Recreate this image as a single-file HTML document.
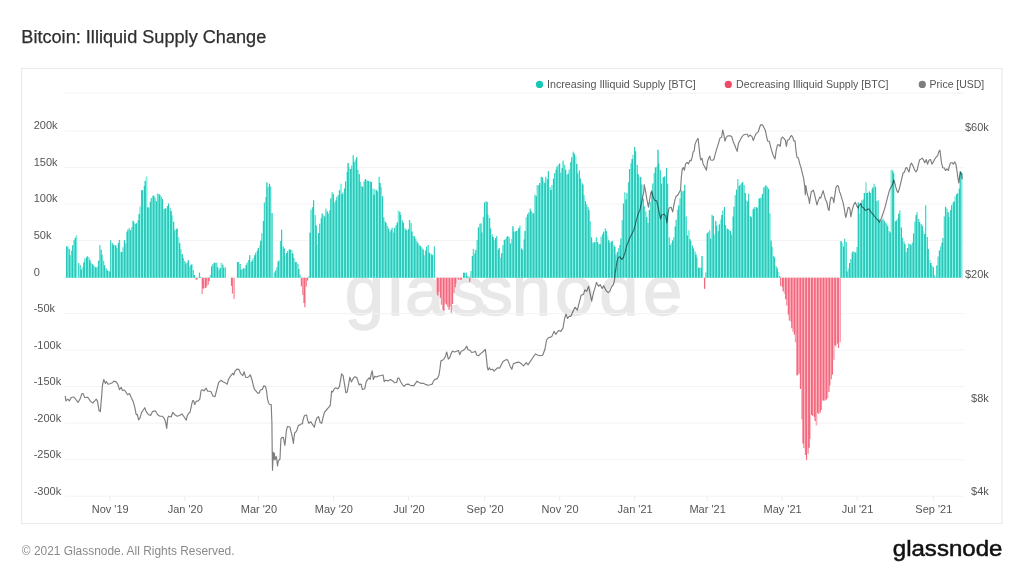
<!DOCTYPE html>
<html lang="en"><head><meta charset="utf-8"><title>Bitcoin: Illiquid Supply Change</title>
<style>
html,body{margin:0;padding:0;background:#fff;}
body{width:1024px;height:576px;overflow:hidden;position:relative;font-family:"Liberation Sans",sans-serif;}
svg{position:absolute;left:0;top:0;}
text{font-family:"Liberation Sans",sans-serif;}
.ax{font-size:11px;fill:#555;}
.lg{font-size:11px;fill:#555;}
</style></head><body>
<svg width="1024" height="576" viewBox="0 0 1024 576">
<rect width="1024" height="576" fill="#fff"/>
<text x="21.3" y="42.8" font-size="17.5" fill="#2f2f2f" stroke="#2f2f2f" stroke-width="0.25" textLength="245" lengthAdjust="spacingAndGlyphs">Bitcoin: Illiquid Supply Change</text>
<rect x="21.5" y="68.5" width="980.5" height="455" fill="#fff" stroke="#ebebeb" stroke-width="1.2"/>
<text x="344.8 387.5 404.9 449.8 477.8 511.8 555 599.3 643.1" y="315.2" font-size="70.7" fill="#e8e8e8" stroke="#e8e8e8" stroke-width="1.3">glassnode</text>

<line x1="64.5" x2="964" y1="93.2" y2="93.2" stroke="#f3f3f3" stroke-width="1"/>
<line x1="64.5" x2="964" y1="131.0" y2="131.0" stroke="#f3f3f3" stroke-width="1"/>
<line x1="64.5" x2="964" y1="167.5" y2="167.5" stroke="#f3f3f3" stroke-width="1"/>
<line x1="64.5" x2="964" y1="204.0" y2="204.0" stroke="#f3f3f3" stroke-width="1"/>
<line x1="64.5" x2="964" y1="240.6" y2="240.6" stroke="#f3f3f3" stroke-width="1"/>
<line x1="64.5" x2="964" y1="277.1" y2="277.1" stroke="#f3f3f3" stroke-width="1"/>
<line x1="64.5" x2="964" y1="313.6" y2="313.6" stroke="#f3f3f3" stroke-width="1"/>
<line x1="64.5" x2="964" y1="350.1" y2="350.1" stroke="#f3f3f3" stroke-width="1"/>
<line x1="64.5" x2="964" y1="386.6" y2="386.6" stroke="#f3f3f3" stroke-width="1"/>
<line x1="64.5" x2="964" y1="423.2" y2="423.2" stroke="#f3f3f3" stroke-width="1"/>
<line x1="64.5" x2="964" y1="459.7" y2="459.7" stroke="#f3f3f3" stroke-width="1"/>
<line x1="64.5" x2="964" y1="496.2" y2="496.2" stroke="#f3f3f3" stroke-width="1"/>
<text class="ax" x="33.7" y="129.4">200k</text>
<text class="ax" x="33.7" y="165.9">150k</text>
<text class="ax" x="33.7" y="202.4">100k</text>
<text class="ax" x="33.7" y="239.0">50k</text>
<text class="ax" x="33.7" y="275.5">0</text>
<text class="ax" x="33.7" y="312.0">-50k</text>
<text class="ax" x="33.7" y="348.5">-100k</text>
<text class="ax" x="33.7" y="385.0">-150k</text>
<text class="ax" x="33.7" y="421.6">-200k</text>
<text class="ax" x="33.7" y="458.1">-250k</text>
<text class="ax" x="33.7" y="494.6">-300k</text>
<text class="ax" x="110.2" y="513.3" text-anchor="middle">Nov '19</text>
<line x1="109.8" x2="109.8" y1="496.5" y2="500.5" stroke="#ebebeb" stroke-width="1"/>
<text class="ax" x="185.2" y="513.3" text-anchor="middle">Jan '20</text>
<line x1="184.8" x2="184.8" y1="496.5" y2="500.5" stroke="#ebebeb" stroke-width="1"/>
<text class="ax" x="258.9" y="513.3" text-anchor="middle">Mar '20</text>
<line x1="258.5" x2="258.5" y1="496.5" y2="500.5" stroke="#ebebeb" stroke-width="1"/>
<text class="ax" x="333.9" y="513.3" text-anchor="middle">May '20</text>
<line x1="333.5" x2="333.5" y1="496.5" y2="500.5" stroke="#ebebeb" stroke-width="1"/>
<text class="ax" x="408.9" y="513.3" text-anchor="middle">Jul '20</text>
<line x1="408.5" x2="408.5" y1="496.5" y2="500.5" stroke="#ebebeb" stroke-width="1"/>
<text class="ax" x="485.1" y="513.3" text-anchor="middle">Sep '20</text>
<line x1="484.7" x2="484.7" y1="496.5" y2="500.5" stroke="#ebebeb" stroke-width="1"/>
<text class="ax" x="560.1" y="513.3" text-anchor="middle">Nov '20</text>
<line x1="559.7" x2="559.7" y1="496.5" y2="500.5" stroke="#ebebeb" stroke-width="1"/>
<text class="ax" x="635.1" y="513.3" text-anchor="middle">Jan '21</text>
<line x1="634.7" x2="634.7" y1="496.5" y2="500.5" stroke="#ebebeb" stroke-width="1"/>
<text class="ax" x="707.6" y="513.3" text-anchor="middle">Mar '21</text>
<line x1="707.2" x2="707.2" y1="496.5" y2="500.5" stroke="#ebebeb" stroke-width="1"/>
<text class="ax" x="782.6" y="513.3" text-anchor="middle">May '21</text>
<line x1="782.2" x2="782.2" y1="496.5" y2="500.5" stroke="#ebebeb" stroke-width="1"/>
<text class="ax" x="857.6" y="513.3" text-anchor="middle">Jul '21</text>
<line x1="857.2" x2="857.2" y1="496.5" y2="500.5" stroke="#ebebeb" stroke-width="1"/>
<text class="ax" x="933.8" y="513.3" text-anchor="middle">Sep '21</text>
<line x1="933.4" x2="933.4" y1="496.5" y2="500.5" stroke="#ebebeb" stroke-width="1"/>
<text class="ax" x="988.8" y="131.0" text-anchor="end">$60k</text>
<text class="ax" x="988.8" y="277.5" text-anchor="end">$20k</text>
<text class="ax" x="988.8" y="401.5" text-anchor="end">$8k</text>
<text class="ax" x="988.8" y="494.6" text-anchor="end">$4k</text>
<defs><clipPath id="ct"><path d="M65.95 246.6h1.33V277.7h-1.33zM67.18 246.6h1.33V277.7h-1.33zM68.41 249.1h1.33V277.7h-1.33zM69.64 255.2h1.33V277.7h-1.33zM70.87 250.4h1.33V277.7h-1.33zM72.10 245.2h1.33V277.7h-1.33zM73.33 239.9h1.33V277.7h-1.33zM74.56 237.9h1.33V277.7h-1.33zM75.78 235.6h1.33V277.7h-1.33zM78.24 263.1h1.33V277.7h-1.33zM79.47 265.0h1.33V277.7h-1.33zM80.70 269.4h1.33V277.7h-1.33zM81.93 266.9h1.33V277.7h-1.33zM83.16 262.6h1.33V277.7h-1.33zM84.39 258.4h1.33V277.7h-1.33zM85.62 257.5h1.33V277.7h-1.33zM86.85 256.2h1.33V277.7h-1.33zM88.08 257.6h1.33V277.7h-1.33zM89.31 260.3h1.33V277.7h-1.33zM90.54 263.0h1.33V277.7h-1.33zM91.77 264.3h1.33V277.7h-1.33zM92.99 265.5h1.33V277.7h-1.33zM94.22 266.7h1.33V277.7h-1.33zM95.45 267.8h1.33V277.7h-1.33zM96.68 266.8h1.33V277.7h-1.33zM97.91 260.8h1.33V277.7h-1.33zM99.14 245.0h1.33V277.7h-1.33zM100.37 249.7h1.33V277.7h-1.33zM101.60 254.7h1.33V277.7h-1.33zM102.83 260.8h1.33V277.7h-1.33zM104.06 265.2h1.33V277.7h-1.33zM105.29 267.9h1.33V277.7h-1.33zM106.52 270.2h1.33V277.7h-1.33zM107.75 271.0h1.33V277.7h-1.33zM108.98 271.6h1.33V277.7h-1.33zM110.20 240.3h1.33V277.7h-1.33zM111.43 243.1h1.33V277.7h-1.33zM112.66 244.7h1.33V277.7h-1.33zM113.89 244.9h1.33V277.7h-1.33zM115.12 245.6h1.33V277.7h-1.33zM116.35 248.1h1.33V277.7h-1.33zM117.58 243.3h1.33V277.7h-1.33zM118.81 240.0h1.33V277.7h-1.33zM120.04 252.0h1.33V277.7h-1.33zM121.27 252.0h1.33V277.7h-1.33zM122.50 247.2h1.33V277.7h-1.33zM123.73 240.3h1.33V277.7h-1.33zM124.96 243.2h1.33V277.7h-1.33zM126.19 231.7h1.33V277.7h-1.33zM127.42 229.4h1.33V277.7h-1.33zM128.64 228.1h1.33V277.7h-1.33zM129.87 230.2h1.33V277.7h-1.33zM131.10 227.1h1.33V277.7h-1.33zM132.33 220.8h1.33V277.7h-1.33zM133.56 222.6h1.33V277.7h-1.33zM134.79 223.9h1.33V277.7h-1.33zM136.02 223.3h1.33V277.7h-1.33zM137.25 220.3h1.33V277.7h-1.33zM138.48 214.0h1.33V277.7h-1.33zM139.71 206.6h1.33V277.7h-1.33zM140.94 190.3h1.33V277.7h-1.33zM142.17 190.3h1.33V277.7h-1.33zM143.40 186.0h1.33V277.7h-1.33zM144.63 180.9h1.33V277.7h-1.33zM145.85 176.6h1.33V277.7h-1.33zM147.08 207.5h1.33V277.7h-1.33zM148.31 207.5h1.33V277.7h-1.33zM149.54 201.8h1.33V277.7h-1.33zM150.77 198.1h1.33V277.7h-1.33zM152.00 195.8h1.33V277.7h-1.33zM153.23 195.8h1.33V277.7h-1.33zM154.46 197.8h1.33V277.7h-1.33zM155.69 201.2h1.33V277.7h-1.33zM156.92 193.4h1.33V277.7h-1.33zM158.15 194.0h1.33V277.7h-1.33zM159.38 195.0h1.33V277.7h-1.33zM160.61 196.7h1.33V277.7h-1.33zM161.84 199.1h1.33V277.7h-1.33zM163.06 209.1h1.33V277.7h-1.33zM164.29 208.7h1.33V277.7h-1.33zM165.52 208.3h1.33V277.7h-1.33zM166.75 206.0h1.33V277.7h-1.33zM167.98 203.6h1.33V277.7h-1.33zM169.21 208.0h1.33V277.7h-1.33zM170.44 210.9h1.33V277.7h-1.33zM171.67 215.2h1.33V277.7h-1.33zM172.90 221.7h1.33V277.7h-1.33zM174.13 230.2h1.33V277.7h-1.33zM175.36 229.3h1.33V277.7h-1.33zM176.59 228.6h1.33V277.7h-1.33zM177.82 237.2h1.33V277.7h-1.33zM179.05 243.3h1.33V277.7h-1.33zM180.27 249.3h1.33V277.7h-1.33zM181.50 254.0h1.33V277.7h-1.33zM182.73 258.0h1.33V277.7h-1.33zM183.96 261.0h1.33V277.7h-1.33zM185.19 263.4h1.33V277.7h-1.33zM186.42 262.4h1.33V277.7h-1.33zM187.65 260.3h1.33V277.7h-1.33zM188.88 266.6h1.33V277.7h-1.33zM190.11 265.1h1.33V277.7h-1.33zM191.34 264.2h1.33V277.7h-1.33zM192.57 270.0h1.33V277.7h-1.33zM193.80 275.0h1.33V277.7h-1.33zM198.71 272.8h1.33V277.7h-1.33zM199.94 277.0h1.33V277.7h-1.33zM209.78 274.7h1.33V277.7h-1.33zM211.01 266.3h1.33V277.7h-1.33zM212.24 264.0h1.33V277.7h-1.33zM213.47 262.7h1.33V277.7h-1.33zM214.70 262.7h1.33V277.7h-1.33zM215.92 262.7h1.33V277.7h-1.33zM217.15 267.3h1.33V277.7h-1.33zM218.38 269.7h1.33V277.7h-1.33zM219.61 268.1h1.33V277.7h-1.33zM220.84 262.7h1.33V277.7h-1.33zM222.07 264.7h1.33V277.7h-1.33zM223.30 268.1h1.33V277.7h-1.33zM224.53 267.3h1.33V277.7h-1.33zM236.82 261.9h1.33V277.7h-1.33zM238.05 261.9h1.33V277.7h-1.33zM239.28 263.9h1.33V277.7h-1.33zM240.51 269.7h1.33V277.7h-1.33zM241.74 269.0h1.33V277.7h-1.33zM242.97 268.6h1.33V277.7h-1.33zM244.20 268.2h1.33V277.7h-1.33zM245.43 264.9h1.33V277.7h-1.33zM246.66 262.7h1.33V277.7h-1.33zM247.89 260.1h1.33V277.7h-1.33zM249.12 255.3h1.33V277.7h-1.33zM250.34 261.9h1.33V277.7h-1.33zM251.57 260.4h1.33V277.7h-1.33zM252.80 258.0h1.33V277.7h-1.33zM254.03 255.2h1.33V277.7h-1.33zM255.26 252.8h1.33V277.7h-1.33zM256.49 250.8h1.33V277.7h-1.33zM257.72 248.1h1.33V277.7h-1.33zM258.95 245.3h1.33V277.7h-1.33zM260.18 240.7h1.33V277.7h-1.33zM261.41 233.2h1.33V277.7h-1.33zM262.64 220.9h1.33V277.7h-1.33zM263.87 202.4h1.33V277.7h-1.33zM265.10 196.9h1.33V277.7h-1.33zM266.33 182.5h1.33V277.7h-1.33zM267.56 186.9h1.33V277.7h-1.33zM268.78 183.8h1.33V277.7h-1.33zM270.01 186.4h1.33V277.7h-1.33zM271.24 213.1h1.33V277.7h-1.33zM273.70 272.6h1.33V277.7h-1.33zM274.93 270.4h1.33V277.7h-1.33zM276.16 266.9h1.33V277.7h-1.33zM277.39 261.6h1.33V277.7h-1.33zM278.62 260.4h1.33V277.7h-1.33zM279.85 241.1h1.33V277.7h-1.33zM281.08 229.8h1.33V277.7h-1.33zM282.31 246.2h1.33V277.7h-1.33zM283.54 248.4h1.33V277.7h-1.33zM284.77 255.6h1.33V277.7h-1.33zM285.99 253.1h1.33V277.7h-1.33zM287.22 251.0h1.33V277.7h-1.33zM288.45 249.4h1.33V277.7h-1.33zM289.68 249.6h1.33V277.7h-1.33zM290.91 250.1h1.33V277.7h-1.33zM292.14 253.4h1.33V277.7h-1.33zM293.37 258.0h1.33V277.7h-1.33zM294.60 261.9h1.33V277.7h-1.33zM295.83 261.9h1.33V277.7h-1.33zM297.06 264.0h1.33V277.7h-1.33zM298.29 269.1h1.33V277.7h-1.33zM299.52 274.8h1.33V277.7h-1.33zM308.12 276.5h1.33V277.7h-1.33zM309.35 232.8h1.33V277.7h-1.33zM310.58 209.7h1.33V277.7h-1.33zM311.81 207.3h1.33V277.7h-1.33zM313.04 200.2h1.33V277.7h-1.33zM314.27 214.9h1.33V277.7h-1.33zM315.50 225.4h1.33V277.7h-1.33zM316.73 244.7h1.33V277.7h-1.33zM317.96 232.9h1.33V277.7h-1.33zM319.19 223.8h1.33V277.7h-1.33zM320.42 218.3h1.33V277.7h-1.33zM321.64 213.4h1.33V277.7h-1.33zM322.87 215.2h1.33V277.7h-1.33zM324.10 216.6h1.33V277.7h-1.33zM325.33 208.8h1.33V277.7h-1.33zM326.56 211.3h1.33V277.7h-1.33zM327.79 213.4h1.33V277.7h-1.33zM329.02 210.3h1.33V277.7h-1.33zM330.25 198.5h1.33V277.7h-1.33zM331.48 192.3h1.33V277.7h-1.33zM332.71 193.9h1.33V277.7h-1.33zM333.94 202.5h1.33V277.7h-1.33zM335.17 200.5h1.33V277.7h-1.33zM336.40 196.8h1.33V277.7h-1.33zM337.63 195.1h1.33V277.7h-1.33zM338.85 190.3h1.33V277.7h-1.33zM340.08 183.8h1.33V277.7h-1.33zM341.31 193.9h1.33V277.7h-1.33zM342.54 192.4h1.33V277.7h-1.33zM343.77 188.5h1.33V277.7h-1.33zM345.00 181.5h1.33V277.7h-1.33zM346.23 171.9h1.33V277.7h-1.33zM347.46 163.1h1.33V277.7h-1.33zM348.69 166.9h1.33V277.7h-1.33zM349.92 168.9h1.33V277.7h-1.33zM351.15 165.7h1.33V277.7h-1.33zM352.38 155.3h1.33V277.7h-1.33zM353.61 161.9h1.33V277.7h-1.33zM354.84 159.5h1.33V277.7h-1.33zM356.06 157.2h1.33V277.7h-1.33zM357.29 169.7h1.33V277.7h-1.33zM358.52 174.3h1.33V277.7h-1.33zM359.75 182.0h1.33V277.7h-1.33zM360.98 186.0h1.33V277.7h-1.33zM362.21 186.9h1.33V277.7h-1.33zM363.44 181.6h1.33V277.7h-1.33zM364.67 179.1h1.33V277.7h-1.33zM365.90 180.2h1.33V277.7h-1.33zM367.13 180.8h1.33V277.7h-1.33zM368.36 181.2h1.33V277.7h-1.33zM369.59 181.6h1.33V277.7h-1.33zM370.82 182.1h1.33V277.7h-1.33zM372.05 188.8h1.33V277.7h-1.33zM373.27 194.7h1.33V277.7h-1.33zM374.50 189.2h1.33V277.7h-1.33zM375.73 190.1h1.33V277.7h-1.33zM376.96 191.6h1.33V277.7h-1.33zM378.19 176.7h1.33V277.7h-1.33zM379.42 182.9h1.33V277.7h-1.33zM380.65 187.0h1.33V277.7h-1.33zM381.88 196.3h1.33V277.7h-1.33zM383.11 217.3h1.33V277.7h-1.33zM384.34 221.4h1.33V277.7h-1.33zM385.57 223.1h1.33V277.7h-1.33zM386.80 225.9h1.33V277.7h-1.33zM388.03 228.8h1.33V277.7h-1.33zM389.26 231.7h1.33V277.7h-1.33zM390.49 229.8h1.33V277.7h-1.33zM391.71 227.8h1.33V277.7h-1.33zM392.94 232.5h1.33V277.7h-1.33zM394.17 227.7h1.33V277.7h-1.33zM395.40 224.9h1.33V277.7h-1.33zM396.63 222.4h1.33V277.7h-1.33zM397.86 210.6h1.33V277.7h-1.33zM399.09 211.9h1.33V277.7h-1.33zM400.32 214.9h1.33V277.7h-1.33zM401.55 220.6h1.33V277.7h-1.33zM402.78 222.8h1.33V277.7h-1.33zM404.01 227.9h1.33V277.7h-1.33zM405.24 229.7h1.33V277.7h-1.33zM406.47 230.2h1.33V277.7h-1.33zM407.70 229.2h1.33V277.7h-1.33zM408.92 220.0h1.33V277.7h-1.33zM410.15 223.0h1.33V277.7h-1.33zM411.38 231.5h1.33V277.7h-1.33zM412.61 235.9h1.33V277.7h-1.33zM413.84 236.3h1.33V277.7h-1.33zM415.07 238.8h1.33V277.7h-1.33zM416.30 241.5h1.33V277.7h-1.33zM417.53 243.5h1.33V277.7h-1.33zM418.76 245.3h1.33V277.7h-1.33zM419.99 246.3h1.33V277.7h-1.33zM421.22 247.6h1.33V277.7h-1.33zM422.45 249.4h1.33V277.7h-1.33zM423.68 255.2h1.33V277.7h-1.33zM424.91 250.5h1.33V277.7h-1.33zM426.13 246.7h1.33V277.7h-1.33zM427.36 245.0h1.33V277.7h-1.33zM428.59 252.8h1.33V277.7h-1.33zM429.82 253.6h1.33V277.7h-1.33zM431.05 254.4h1.33V277.7h-1.33zM432.28 255.2h1.33V277.7h-1.33zM433.51 246.6h1.33V277.7h-1.33zM463.01 272.8h1.33V277.7h-1.33zM464.24 272.8h1.33V277.7h-1.33zM465.47 272.8h1.33V277.7h-1.33zM466.70 276.3h1.33V277.7h-1.33zM467.93 276.3h1.33V277.7h-1.33zM470.39 271.0h1.33V277.7h-1.33zM471.62 256.1h1.33V277.7h-1.33zM472.85 248.9h1.33V277.7h-1.33zM474.08 253.6h1.33V277.7h-1.33zM475.31 250.0h1.33V277.7h-1.33zM476.54 239.9h1.33V277.7h-1.33zM477.77 227.5h1.33V277.7h-1.33zM478.99 223.7h1.33V277.7h-1.33zM480.22 223.4h1.33V277.7h-1.33zM481.45 232.5h1.33V277.7h-1.33zM482.68 217.0h1.33V277.7h-1.33zM483.91 202.6h1.33V277.7h-1.33zM485.14 200.9h1.33V277.7h-1.33zM486.37 202.1h1.33V277.7h-1.33zM487.60 214.8h1.33V277.7h-1.33zM488.83 217.9h1.33V277.7h-1.33zM490.06 228.5h1.33V277.7h-1.33zM491.29 234.5h1.33V277.7h-1.33zM492.52 237.0h1.33V277.7h-1.33zM493.75 240.3h1.33V277.7h-1.33zM494.98 238.1h1.33V277.7h-1.33zM496.20 235.9h1.33V277.7h-1.33zM497.43 249.7h1.33V277.7h-1.33zM498.66 248.1h1.33V277.7h-1.33zM499.89 257.5h1.33V277.7h-1.33zM501.12 253.2h1.33V277.7h-1.33zM502.35 245.3h1.33V277.7h-1.33zM503.58 239.9h1.33V277.7h-1.33zM504.81 239.0h1.33V277.7h-1.33zM506.04 237.1h1.33V277.7h-1.33zM507.27 235.9h1.33V277.7h-1.33zM508.50 237.5h1.33V277.7h-1.33zM509.73 243.4h1.33V277.7h-1.33zM510.96 238.9h1.33V277.7h-1.33zM512.19 226.2h1.33V277.7h-1.33zM513.42 231.7h1.33V277.7h-1.33zM514.64 231.5h1.33V277.7h-1.33zM515.87 231.0h1.33V277.7h-1.33zM517.10 229.9h1.33V277.7h-1.33zM518.33 227.9h1.33V277.7h-1.33zM519.56 225.5h1.33V277.7h-1.33zM520.79 248.5h1.33V277.7h-1.33zM522.02 249.7h1.33V277.7h-1.33zM523.25 239.4h1.33V277.7h-1.33zM524.48 231.1h1.33V277.7h-1.33zM525.71 217.3h1.33V277.7h-1.33zM526.94 214.2h1.33V277.7h-1.33zM528.17 212.5h1.33V277.7h-1.33zM529.40 208.8h1.33V277.7h-1.33zM530.63 211.2h1.33V277.7h-1.33zM531.85 212.7h1.33V277.7h-1.33zM533.08 213.4h1.33V277.7h-1.33zM534.31 194.7h1.33V277.7h-1.33zM535.54 196.2h1.33V277.7h-1.33zM536.77 185.3h1.33V277.7h-1.33zM538.00 185.3h1.33V277.7h-1.33zM539.23 182.9h1.33V277.7h-1.33zM540.46 176.7h1.33V277.7h-1.33zM541.69 177.4h1.33V277.7h-1.33zM542.92 180.7h1.33V277.7h-1.33zM544.15 183.0h1.33V277.7h-1.33zM545.38 176.7h1.33V277.7h-1.33zM546.61 179.1h1.33V277.7h-1.33zM547.84 171.2h1.33V277.7h-1.33zM549.06 186.9h1.33V277.7h-1.33zM550.29 190.0h1.33V277.7h-1.33zM551.52 184.9h1.33V277.7h-1.33zM552.75 178.7h1.33V277.7h-1.33zM553.98 173.1h1.33V277.7h-1.33zM555.21 169.7h1.33V277.7h-1.33zM556.44 166.7h1.33V277.7h-1.33zM557.67 164.7h1.33V277.7h-1.33zM558.90 163.4h1.33V277.7h-1.33zM560.13 172.8h1.33V277.7h-1.33zM561.36 168.1h1.33V277.7h-1.33zM562.59 160.8h1.33V277.7h-1.33zM563.82 164.8h1.33V277.7h-1.33zM565.05 169.7h1.33V277.7h-1.33zM566.28 174.4h1.33V277.7h-1.33zM567.50 173.8h1.33V277.7h-1.33zM568.73 169.5h1.33V277.7h-1.33zM569.96 162.3h1.33V277.7h-1.33zM571.19 157.2h1.33V277.7h-1.33zM572.42 151.7h1.33V277.7h-1.33zM573.65 153.8h1.33V277.7h-1.33zM574.88 155.9h1.33V277.7h-1.33zM576.11 163.9h1.33V277.7h-1.33zM577.34 173.6h1.33V277.7h-1.33zM578.57 170.5h1.33V277.7h-1.33zM579.80 178.5h1.33V277.7h-1.33zM581.03 182.8h1.33V277.7h-1.33zM582.26 184.6h1.33V277.7h-1.33zM583.49 195.1h1.33V277.7h-1.33zM584.71 201.2h1.33V277.7h-1.33zM585.94 204.4h1.33V277.7h-1.33zM587.17 206.9h1.33V277.7h-1.33zM588.40 210.3h1.33V277.7h-1.33zM589.63 221.2h1.33V277.7h-1.33zM590.86 237.3h1.33V277.7h-1.33zM592.09 242.7h1.33V277.7h-1.33zM593.32 242.4h1.33V277.7h-1.33zM594.55 242.0h1.33V277.7h-1.33zM595.78 237.2h1.33V277.7h-1.33zM597.01 241.9h1.33V277.7h-1.33zM598.24 243.9h1.33V277.7h-1.33zM599.47 244.2h1.33V277.7h-1.33zM600.70 236.7h1.33V277.7h-1.33zM601.92 234.2h1.33V277.7h-1.33zM603.15 231.7h1.33V277.7h-1.33zM604.38 228.6h1.33V277.7h-1.33zM605.61 231.0h1.33V277.7h-1.33zM606.84 235.6h1.33V277.7h-1.33zM608.07 240.2h1.33V277.7h-1.33zM609.30 242.7h1.33V277.7h-1.33zM610.53 241.7h1.33V277.7h-1.33zM611.76 241.1h1.33V277.7h-1.33zM612.99 245.1h1.33V277.7h-1.33zM614.22 247.0h1.33V277.7h-1.33zM615.45 254.4h1.33V277.7h-1.33zM616.68 252.1h1.33V277.7h-1.33zM617.91 248.2h1.33V277.7h-1.33zM619.14 245.1h1.33V277.7h-1.33zM620.36 238.6h1.33V277.7h-1.33zM621.59 220.3h1.33V277.7h-1.33zM622.82 203.4h1.33V277.7h-1.33zM624.05 192.3h1.33V277.7h-1.33zM625.28 199.4h1.33V277.7h-1.33zM626.51 193.0h1.33V277.7h-1.33zM627.74 182.2h1.33V277.7h-1.33zM628.97 169.0h1.33V277.7h-1.33zM630.20 163.2h1.33V277.7h-1.33zM631.43 159.1h1.33V277.7h-1.33zM632.66 154.7h1.33V277.7h-1.33zM633.89 147.0h1.33V277.7h-1.33zM635.12 151.2h1.33V277.7h-1.33zM636.35 164.9h1.33V277.7h-1.33zM637.57 174.2h1.33V277.7h-1.33zM638.80 176.6h1.33V277.7h-1.33zM640.03 177.3h1.33V277.7h-1.33zM641.26 184.5h1.33V277.7h-1.33zM642.49 198.8h1.33V277.7h-1.33zM643.72 206.2h1.33V277.7h-1.33zM644.95 211.2h1.33V277.7h-1.33zM646.18 217.3h1.33V277.7h-1.33zM647.41 223.1h1.33V277.7h-1.33zM648.64 209.9h1.33V277.7h-1.33zM649.87 202.1h1.33V277.7h-1.33zM651.10 192.3h1.33V277.7h-1.33zM652.33 183.4h1.33V277.7h-1.33zM653.56 172.9h1.33V277.7h-1.33zM654.78 167.6h1.33V277.7h-1.33zM656.01 166.6h1.33V277.7h-1.33zM657.24 149.7h1.33V277.7h-1.33zM658.47 163.6h1.33V277.7h-1.33zM659.70 170.1h1.33V277.7h-1.33zM660.93 183.8h1.33V277.7h-1.33zM662.16 177.4h1.33V277.7h-1.33zM663.39 176.9h1.33V277.7h-1.33zM664.62 176.0h1.33V277.7h-1.33zM665.85 168.1h1.33V277.7h-1.33zM667.08 183.7h1.33V277.7h-1.33zM668.31 237.3h1.33V277.7h-1.33zM669.54 245.0h1.33V277.7h-1.33zM670.77 243.0h1.33V277.7h-1.33zM671.99 240.4h1.33V277.7h-1.33zM673.22 237.3h1.33V277.7h-1.33zM674.45 226.5h1.33V277.7h-1.33zM675.68 219.7h1.33V277.7h-1.33zM676.91 209.8h1.33V277.7h-1.33zM678.14 205.4h1.33V277.7h-1.33zM679.37 198.4h1.33V277.7h-1.33zM680.60 190.6h1.33V277.7h-1.33zM681.83 191.4h1.33V277.7h-1.33zM683.06 190.7h1.33V277.7h-1.33zM684.29 184.7h1.33V277.7h-1.33zM685.52 216.6h1.33V277.7h-1.33zM686.75 235.6h1.33V277.7h-1.33zM687.98 230.2h1.33V277.7h-1.33zM689.21 239.2h1.33V277.7h-1.33zM690.43 240.9h1.33V277.7h-1.33zM691.66 245.8h1.33V277.7h-1.33zM692.89 248.6h1.33V277.7h-1.33zM694.12 251.5h1.33V277.7h-1.33zM695.35 254.5h1.33V277.7h-1.33zM696.58 257.8h1.33V277.7h-1.33zM697.81 267.7h1.33V277.7h-1.33zM699.04 267.7h1.33V277.7h-1.33zM700.27 267.7h1.33V277.7h-1.33zM701.50 255.9h1.33V277.7h-1.33zM705.19 272.4h1.33V277.7h-1.33zM706.42 233.4h1.33V277.7h-1.33zM707.64 232.3h1.33V277.7h-1.33zM708.87 230.2h1.33V277.7h-1.33zM710.10 238.8h1.33V277.7h-1.33zM711.33 214.8h1.33V277.7h-1.33zM712.56 215.9h1.33V277.7h-1.33zM713.79 234.4h1.33V277.7h-1.33zM715.02 221.1h1.33V277.7h-1.33zM716.25 225.8h1.33V277.7h-1.33zM717.48 231.2h1.33V277.7h-1.33zM718.71 224.4h1.33V277.7h-1.33zM719.94 219.5h1.33V277.7h-1.33zM721.17 215.1h1.33V277.7h-1.33zM722.40 210.5h1.33V277.7h-1.33zM723.63 207.0h1.33V277.7h-1.33zM724.85 225.1h1.33V277.7h-1.33zM726.08 228.4h1.33V277.7h-1.33zM727.31 229.3h1.33V277.7h-1.33zM728.54 230.0h1.33V277.7h-1.33zM729.77 231.1h1.33V277.7h-1.33zM731.00 234.4h1.33V277.7h-1.33zM732.23 216.6h1.33V277.7h-1.33zM733.46 206.8h1.33V277.7h-1.33zM734.69 195.0h1.33V277.7h-1.33zM735.92 189.8h1.33V277.7h-1.33zM737.15 178.9h1.33V277.7h-1.33zM738.38 185.9h1.33V277.7h-1.33zM739.61 184.8h1.33V277.7h-1.33zM740.84 183.3h1.33V277.7h-1.33zM742.07 182.0h1.33V277.7h-1.33zM743.29 184.9h1.33V277.7h-1.33zM744.52 193.1h1.33V277.7h-1.33zM745.75 200.6h1.33V277.7h-1.33zM746.98 201.6h1.33V277.7h-1.33zM748.21 193.8h1.33V277.7h-1.33zM749.44 216.1h1.33V277.7h-1.33zM750.67 217.2h1.33V277.7h-1.33zM751.90 209.4h1.33V277.7h-1.33zM753.13 208.8h1.33V277.7h-1.33zM754.36 207.0h1.33V277.7h-1.33zM755.59 207.3h1.33V277.7h-1.33zM756.82 207.8h1.33V277.7h-1.33zM758.05 198.4h1.33V277.7h-1.33zM759.28 198.4h1.33V277.7h-1.33zM760.50 197.4h1.33V277.7h-1.33zM761.73 194.1h1.33V277.7h-1.33zM762.96 187.4h1.33V277.7h-1.33zM764.19 186.8h1.33V277.7h-1.33zM765.42 185.2h1.33V277.7h-1.33zM766.65 186.8h1.33V277.7h-1.33zM767.88 188.7h1.33V277.7h-1.33zM769.11 213.2h1.33V277.7h-1.33zM770.34 240.6h1.33V277.7h-1.33zM771.57 246.8h1.33V277.7h-1.33zM772.80 256.1h1.33V277.7h-1.33zM774.03 257.3h1.33V277.7h-1.33zM775.26 265.9h1.33V277.7h-1.33zM776.49 268.3h1.33V277.7h-1.33zM777.71 272.0h1.33V277.7h-1.33zM778.94 276.1h1.33V277.7h-1.33zM840.41 241.1h1.33V277.7h-1.33zM841.64 243.0h1.33V277.7h-1.33zM842.87 246.6h1.33V277.7h-1.33zM844.10 238.8h1.33V277.7h-1.33zM845.33 242.0h1.33V277.7h-1.33zM846.56 271.6h1.33V277.7h-1.33zM847.78 268.5h1.33V277.7h-1.33zM849.01 263.0h1.33V277.7h-1.33zM850.24 259.1h1.33V277.7h-1.33zM851.47 252.4h1.33V277.7h-1.33zM852.70 251.2h1.33V277.7h-1.33zM853.93 252.1h1.33V277.7h-1.33zM855.16 252.8h1.33V277.7h-1.33zM856.39 247.1h1.33V277.7h-1.33zM857.62 202.5h1.33V277.7h-1.33zM858.85 213.8h1.33V277.7h-1.33zM860.08 203.4h1.33V277.7h-1.33zM861.31 200.4h1.33V277.7h-1.33zM862.54 199.5h1.33V277.7h-1.33zM863.77 193.0h1.33V277.7h-1.33zM865.00 182.2h1.33V277.7h-1.33zM866.22 193.1h1.33V277.7h-1.33zM867.45 192.4h1.33V277.7h-1.33zM868.68 191.6h1.33V277.7h-1.33zM869.91 193.1h1.33V277.7h-1.33zM871.14 189.2h1.33V277.7h-1.33zM872.37 187.4h1.33V277.7h-1.33zM873.60 183.8h1.33V277.7h-1.33zM874.83 186.7h1.33V277.7h-1.33zM876.06 201.2h1.33V277.7h-1.33zM877.29 200.2h1.33V277.7h-1.33zM878.52 219.1h1.33V277.7h-1.33zM879.75 221.6h1.33V277.7h-1.33zM880.98 219.9h1.33V277.7h-1.33zM882.21 218.4h1.33V277.7h-1.33zM883.43 220.7h1.33V277.7h-1.33zM884.66 222.5h1.33V277.7h-1.33zM885.89 223.5h1.33V277.7h-1.33zM887.12 226.3h1.33V277.7h-1.33zM888.35 230.9h1.33V277.7h-1.33zM889.58 232.5h1.33V277.7h-1.33zM890.81 169.7h1.33V277.7h-1.33zM892.04 170.8h1.33V277.7h-1.33zM893.27 173.5h1.33V277.7h-1.33zM894.50 221.6h1.33V277.7h-1.33zM895.73 220.5h1.33V277.7h-1.33zM896.96 218.4h1.33V277.7h-1.33zM898.19 213.7h1.33V277.7h-1.33zM899.42 210.6h1.33V277.7h-1.33zM900.64 227.5h1.33V277.7h-1.33zM901.87 237.8h1.33V277.7h-1.33zM903.10 241.6h1.33V277.7h-1.33zM904.33 244.2h1.33V277.7h-1.33zM905.56 252.0h1.33V277.7h-1.33zM906.79 248.0h1.33V277.7h-1.33zM908.02 243.4h1.33V277.7h-1.33zM909.25 244.3h1.33V277.7h-1.33zM910.48 245.0h1.33V277.7h-1.33zM911.71 242.5h1.33V277.7h-1.33zM912.94 233.5h1.33V277.7h-1.33zM914.17 221.7h1.33V277.7h-1.33zM915.40 215.3h1.33V277.7h-1.33zM916.63 212.2h1.33V277.7h-1.33zM917.85 219.1h1.33V277.7h-1.33zM919.08 222.1h1.33V277.7h-1.33zM920.31 224.1h1.33V277.7h-1.33zM921.54 225.7h1.33V277.7h-1.33zM922.77 230.4h1.33V277.7h-1.33zM924.00 234.1h1.33V277.7h-1.33zM925.23 205.2h1.33V277.7h-1.33zM926.46 237.0h1.33V277.7h-1.33zM927.69 249.1h1.33V277.7h-1.33zM928.92 260.1h1.33V277.7h-1.33zM930.15 263.0h1.33V277.7h-1.33zM931.38 265.4h1.33V277.7h-1.33zM932.61 267.2h1.33V277.7h-1.33zM933.84 275.2h1.33V277.7h-1.33zM935.07 276.9h1.33V277.7h-1.33zM936.29 265.6h1.33V277.7h-1.33zM937.52 256.4h1.33V277.7h-1.33zM938.75 250.4h1.33V277.7h-1.33zM939.98 246.4h1.33V277.7h-1.33zM941.21 242.7h1.33V277.7h-1.33zM942.44 238.0h1.33V277.7h-1.33zM943.67 216.6h1.33V277.7h-1.33zM944.90 206.7h1.33V277.7h-1.33zM946.13 208.6h1.33V277.7h-1.33zM947.36 212.3h1.33V277.7h-1.33zM948.59 216.9h1.33V277.7h-1.33zM949.82 210.3h1.33V277.7h-1.33zM951.05 205.2h1.33V277.7h-1.33zM952.28 202.4h1.33V277.7h-1.33zM953.50 201.6h1.33V277.7h-1.33zM954.73 196.3h1.33V277.7h-1.33zM955.96 194.2h1.33V277.7h-1.33zM957.19 193.3h1.33V277.7h-1.33zM958.42 188.8h1.33V277.7h-1.33zM959.65 171.2h1.33V277.7h-1.33zM960.88 172.9h1.33V277.7h-1.33z"/></clipPath><clipPath id="cr"><path d="M195.03 277.7h1.33V279.8h-1.33zM196.26 277.7h1.33V279.5h-1.33zM201.17 277.7h1.33V293.9h-1.33zM202.40 277.7h1.33V288.4h-1.33zM203.63 277.7h1.33V288.4h-1.33zM204.86 277.7h1.33V287.9h-1.33zM206.09 277.7h1.33V286.6h-1.33zM207.32 277.7h1.33V284.7h-1.33zM208.55 277.7h1.33V281.0h-1.33zM230.68 277.7h1.33V285.8h-1.33zM231.91 277.7h1.33V293.4h-1.33zM233.13 277.7h1.33V299.1h-1.33zM300.75 277.7h1.33V286.3h-1.33zM301.98 277.7h1.33V294.9h-1.33zM303.20 277.7h1.33V303.0h-1.33zM304.43 277.7h1.33V307.2h-1.33zM305.66 277.7h1.33V286.6h-1.33zM306.89 277.7h1.33V280.5h-1.33zM435.97 277.7h1.33V293.6h-1.33zM437.20 277.7h1.33V295.6h-1.33zM438.43 277.7h1.33V291.7h-1.33zM439.66 277.7h1.33V297.7h-1.33zM440.89 277.7h1.33V304.8h-1.33zM442.12 277.7h1.33V309.9h-1.33zM443.35 277.7h1.33V310.5h-1.33zM444.57 277.7h1.33V303.4h-1.33zM445.80 277.7h1.33V304.4h-1.33zM447.03 277.7h1.33V307.0h-1.33zM448.26 277.7h1.33V309.7h-1.33zM449.49 277.7h1.33V306.6h-1.33zM450.72 277.7h1.33V312.8h-1.33zM451.95 277.7h1.33V304.0h-1.33zM453.18 277.7h1.33V293.0h-1.33zM454.41 277.7h1.33V287.2h-1.33zM455.64 277.7h1.33V283.5h-1.33zM456.87 277.7h1.33V278.4h-1.33zM458.10 277.7h1.33V279.8h-1.33zM459.33 277.7h1.33V279.8h-1.33zM460.56 277.7h1.33V279.8h-1.33zM469.16 277.7h1.33V281.8h-1.33zM703.96 277.7h1.33V288.8h-1.33zM780.17 277.7h1.33V286.1h-1.33zM781.40 277.7h1.33V287.1h-1.33zM782.63 277.7h1.33V291.3h-1.33zM783.86 277.7h1.33V294.0h-1.33zM785.09 277.7h1.33V299.2h-1.33zM786.32 277.7h1.33V305.6h-1.33zM787.55 277.7h1.33V314.5h-1.33zM788.78 277.7h1.33V320.5h-1.33zM790.01 277.7h1.33V321.5h-1.33zM791.24 277.7h1.33V328.2h-1.33zM792.47 277.7h1.33V331.7h-1.33zM793.70 277.7h1.33V334.4h-1.33zM794.92 277.7h1.33V342.2h-1.33zM796.15 277.7h1.33V375.5h-1.33zM797.38 277.7h1.33V374.7h-1.33zM798.61 277.7h1.33V373.4h-1.33zM799.84 277.7h1.33V389.0h-1.33zM801.07 277.7h1.33V419.2h-1.33zM802.30 277.7h1.33V443.4h-1.33zM803.53 277.7h1.33V447.9h-1.33zM804.76 277.7h1.33V454.9h-1.33zM805.99 277.7h1.33V459.8h-1.33zM807.22 277.7h1.33V453.8h-1.33zM808.45 277.7h1.33V447.7h-1.33zM809.68 277.7h1.33V438.9h-1.33zM810.91 277.7h1.33V415.1h-1.33zM812.14 277.7h1.33V415.8h-1.33zM813.36 277.7h1.33V416.7h-1.33zM814.59 277.7h1.33V420.9h-1.33zM815.82 277.7h1.33V425.5h-1.33zM817.05 277.7h1.33V413.0h-1.33zM818.28 277.7h1.33V414.0h-1.33zM819.51 277.7h1.33V412.5h-1.33zM820.74 277.7h1.33V410.0h-1.33zM821.97 277.7h1.33V400.5h-1.33zM823.20 277.7h1.33V400.5h-1.33zM824.43 277.7h1.33V400.5h-1.33zM825.66 277.7h1.33V399.6h-1.33zM826.89 277.7h1.33V398.2h-1.33zM828.12 277.7h1.33V392.1h-1.33zM829.35 277.7h1.33V385.3h-1.33zM830.57 277.7h1.33V379.3h-1.33zM831.80 277.7h1.33V374.4h-1.33zM833.03 277.7h1.33V359.7h-1.33zM834.26 277.7h1.33V345.0h-1.33zM835.49 277.7h1.33V346.6h-1.33zM836.72 277.7h1.33V343.4h-1.33zM837.95 277.7h1.33V348.1h-1.33zM839.18 277.7h1.33V342.0h-1.33z"/></clipPath></defs>
<g clip-path="url(#ct)"><rect x="60" y="90" width="910" height="190" fill="#88f7ea"/><path d="M65.70 90h1.85V500h-1.85zM68.60 90h1.85V500h-1.85zM71.50 90h1.85V500h-1.85zM74.40 90h1.85V500h-1.85zM77.30 90h1.85V500h-1.85zM80.20 90h1.85V500h-1.85zM83.10 90h1.85V500h-1.85zM86.00 90h1.85V500h-1.85zM88.90 90h1.85V500h-1.85zM91.80 90h1.85V500h-1.85zM94.70 90h1.85V500h-1.85zM97.60 90h1.85V500h-1.85zM100.50 90h1.85V500h-1.85zM103.40 90h1.85V500h-1.85zM106.30 90h1.85V500h-1.85zM109.20 90h1.85V500h-1.85zM112.10 90h1.85V500h-1.85zM115.00 90h1.85V500h-1.85zM117.90 90h1.85V500h-1.85zM120.80 90h1.85V500h-1.85zM123.70 90h1.85V500h-1.85zM126.60 90h1.85V500h-1.85zM129.50 90h1.85V500h-1.85zM132.40 90h1.85V500h-1.85zM135.30 90h1.85V500h-1.85zM138.20 90h1.85V500h-1.85zM141.10 90h1.85V500h-1.85zM144.00 90h1.85V500h-1.85zM146.90 90h1.85V500h-1.85zM149.80 90h1.85V500h-1.85zM152.70 90h1.85V500h-1.85zM155.60 90h1.85V500h-1.85zM158.50 90h1.85V500h-1.85zM161.40 90h1.85V500h-1.85zM164.30 90h1.85V500h-1.85zM167.20 90h1.85V500h-1.85zM170.10 90h1.85V500h-1.85zM173.00 90h1.85V500h-1.85zM175.90 90h1.85V500h-1.85zM178.80 90h1.85V500h-1.85zM181.70 90h1.85V500h-1.85zM184.60 90h1.85V500h-1.85zM187.50 90h1.85V500h-1.85zM190.40 90h1.85V500h-1.85zM193.30 90h1.85V500h-1.85zM196.20 90h1.85V500h-1.85zM199.10 90h1.85V500h-1.85zM202.00 90h1.85V500h-1.85zM204.90 90h1.85V500h-1.85zM207.80 90h1.85V500h-1.85zM210.70 90h1.85V500h-1.85zM213.60 90h1.85V500h-1.85zM216.50 90h1.85V500h-1.85zM219.40 90h1.85V500h-1.85zM222.30 90h1.85V500h-1.85zM225.20 90h1.85V500h-1.85zM228.10 90h1.85V500h-1.85zM231.00 90h1.85V500h-1.85zM233.90 90h1.85V500h-1.85zM236.80 90h1.85V500h-1.85zM239.70 90h1.85V500h-1.85zM242.60 90h1.85V500h-1.85zM245.50 90h1.85V500h-1.85zM248.40 90h1.85V500h-1.85zM251.30 90h1.85V500h-1.85zM254.20 90h1.85V500h-1.85zM257.10 90h1.85V500h-1.85zM260.00 90h1.85V500h-1.85zM262.90 90h1.85V500h-1.85zM265.80 90h1.85V500h-1.85zM268.70 90h1.85V500h-1.85zM271.60 90h1.85V500h-1.85zM274.50 90h1.85V500h-1.85zM277.40 90h1.85V500h-1.85zM280.30 90h1.85V500h-1.85zM283.20 90h1.85V500h-1.85zM286.10 90h1.85V500h-1.85zM289.00 90h1.85V500h-1.85zM291.90 90h1.85V500h-1.85zM294.80 90h1.85V500h-1.85zM297.70 90h1.85V500h-1.85zM300.60 90h1.85V500h-1.85zM303.50 90h1.85V500h-1.85zM306.40 90h1.85V500h-1.85zM309.30 90h1.85V500h-1.85zM312.20 90h1.85V500h-1.85zM315.10 90h1.85V500h-1.85zM318.00 90h1.85V500h-1.85zM320.90 90h1.85V500h-1.85zM323.80 90h1.85V500h-1.85zM326.70 90h1.85V500h-1.85zM329.60 90h1.85V500h-1.85zM332.50 90h1.85V500h-1.85zM335.40 90h1.85V500h-1.85zM338.30 90h1.85V500h-1.85zM341.20 90h1.85V500h-1.85zM344.10 90h1.85V500h-1.85zM347.00 90h1.85V500h-1.85zM349.90 90h1.85V500h-1.85zM352.80 90h1.85V500h-1.85zM355.70 90h1.85V500h-1.85zM358.60 90h1.85V500h-1.85zM361.50 90h1.85V500h-1.85zM364.40 90h1.85V500h-1.85zM367.30 90h1.85V500h-1.85zM370.20 90h1.85V500h-1.85zM373.10 90h1.85V500h-1.85zM376.00 90h1.85V500h-1.85zM378.90 90h1.85V500h-1.85zM381.80 90h1.85V500h-1.85zM384.70 90h1.85V500h-1.85zM387.60 90h1.85V500h-1.85zM390.50 90h1.85V500h-1.85zM393.40 90h1.85V500h-1.85zM396.30 90h1.85V500h-1.85zM399.20 90h1.85V500h-1.85zM402.10 90h1.85V500h-1.85zM405.00 90h1.85V500h-1.85zM407.90 90h1.85V500h-1.85zM410.80 90h1.85V500h-1.85zM413.70 90h1.85V500h-1.85zM416.60 90h1.85V500h-1.85zM419.50 90h1.85V500h-1.85zM422.40 90h1.85V500h-1.85zM425.30 90h1.85V500h-1.85zM428.20 90h1.85V500h-1.85zM431.10 90h1.85V500h-1.85zM434.00 90h1.85V500h-1.85zM436.90 90h1.85V500h-1.85zM439.80 90h1.85V500h-1.85zM442.70 90h1.85V500h-1.85zM445.60 90h1.85V500h-1.85zM448.50 90h1.85V500h-1.85zM451.40 90h1.85V500h-1.85zM454.30 90h1.85V500h-1.85zM457.20 90h1.85V500h-1.85zM460.10 90h1.85V500h-1.85zM463.00 90h1.85V500h-1.85zM465.90 90h1.85V500h-1.85zM468.80 90h1.85V500h-1.85zM471.70 90h1.85V500h-1.85zM474.60 90h1.85V500h-1.85zM477.50 90h1.85V500h-1.85zM480.40 90h1.85V500h-1.85zM483.30 90h1.85V500h-1.85zM486.20 90h1.85V500h-1.85zM489.10 90h1.85V500h-1.85zM492.00 90h1.85V500h-1.85zM494.90 90h1.85V500h-1.85zM497.80 90h1.85V500h-1.85zM500.70 90h1.85V500h-1.85zM503.60 90h1.85V500h-1.85zM506.50 90h1.85V500h-1.85zM509.40 90h1.85V500h-1.85zM512.30 90h1.85V500h-1.85zM515.20 90h1.85V500h-1.85zM518.10 90h1.85V500h-1.85zM521.00 90h1.85V500h-1.85zM523.90 90h1.85V500h-1.85zM526.80 90h1.85V500h-1.85zM529.70 90h1.85V500h-1.85zM532.60 90h1.85V500h-1.85zM535.50 90h1.85V500h-1.85zM538.40 90h1.85V500h-1.85zM541.30 90h1.85V500h-1.85zM544.20 90h1.85V500h-1.85zM547.10 90h1.85V500h-1.85zM550.00 90h1.85V500h-1.85zM552.90 90h1.85V500h-1.85zM555.80 90h1.85V500h-1.85zM558.70 90h1.85V500h-1.85zM561.60 90h1.85V500h-1.85zM564.50 90h1.85V500h-1.85zM567.40 90h1.85V500h-1.85zM570.30 90h1.85V500h-1.85zM573.20 90h1.85V500h-1.85zM576.10 90h1.85V500h-1.85zM579.00 90h1.85V500h-1.85zM581.90 90h1.85V500h-1.85zM584.80 90h1.85V500h-1.85zM587.70 90h1.85V500h-1.85zM590.60 90h1.85V500h-1.85zM593.50 90h1.85V500h-1.85zM596.40 90h1.85V500h-1.85zM599.30 90h1.85V500h-1.85zM602.20 90h1.85V500h-1.85zM605.10 90h1.85V500h-1.85zM608.00 90h1.85V500h-1.85zM610.90 90h1.85V500h-1.85zM613.80 90h1.85V500h-1.85zM616.70 90h1.85V500h-1.85zM619.60 90h1.85V500h-1.85zM622.50 90h1.85V500h-1.85zM625.40 90h1.85V500h-1.85zM628.30 90h1.85V500h-1.85zM631.20 90h1.85V500h-1.85zM634.10 90h1.85V500h-1.85zM637.00 90h1.85V500h-1.85zM639.90 90h1.85V500h-1.85zM642.80 90h1.85V500h-1.85zM645.70 90h1.85V500h-1.85zM648.60 90h1.85V500h-1.85zM651.50 90h1.85V500h-1.85zM654.40 90h1.85V500h-1.85zM657.30 90h1.85V500h-1.85zM660.20 90h1.85V500h-1.85zM663.10 90h1.85V500h-1.85zM666.00 90h1.85V500h-1.85zM668.90 90h1.85V500h-1.85zM671.80 90h1.85V500h-1.85zM674.70 90h1.85V500h-1.85zM677.60 90h1.85V500h-1.85zM680.50 90h1.85V500h-1.85zM683.40 90h1.85V500h-1.85zM686.30 90h1.85V500h-1.85zM689.20 90h1.85V500h-1.85zM692.10 90h1.85V500h-1.85zM695.00 90h1.85V500h-1.85zM697.90 90h1.85V500h-1.85zM700.80 90h1.85V500h-1.85zM703.70 90h1.85V500h-1.85zM706.60 90h1.85V500h-1.85zM709.50 90h1.85V500h-1.85zM712.40 90h1.85V500h-1.85zM715.30 90h1.85V500h-1.85zM718.20 90h1.85V500h-1.85zM721.10 90h1.85V500h-1.85zM724.00 90h1.85V500h-1.85zM726.90 90h1.85V500h-1.85zM729.80 90h1.85V500h-1.85zM732.70 90h1.85V500h-1.85zM735.60 90h1.85V500h-1.85zM738.50 90h1.85V500h-1.85zM741.40 90h1.85V500h-1.85zM744.30 90h1.85V500h-1.85zM747.20 90h1.85V500h-1.85zM750.10 90h1.85V500h-1.85zM753.00 90h1.85V500h-1.85zM755.90 90h1.85V500h-1.85zM758.80 90h1.85V500h-1.85zM761.70 90h1.85V500h-1.85zM764.60 90h1.85V500h-1.85zM767.50 90h1.85V500h-1.85zM770.40 90h1.85V500h-1.85zM773.30 90h1.85V500h-1.85zM776.20 90h1.85V500h-1.85zM779.10 90h1.85V500h-1.85zM782.00 90h1.85V500h-1.85zM784.90 90h1.85V500h-1.85zM787.80 90h1.85V500h-1.85zM790.70 90h1.85V500h-1.85zM793.60 90h1.85V500h-1.85zM796.50 90h1.85V500h-1.85zM799.40 90h1.85V500h-1.85zM802.30 90h1.85V500h-1.85zM805.20 90h1.85V500h-1.85zM808.10 90h1.85V500h-1.85zM811.00 90h1.85V500h-1.85zM813.90 90h1.85V500h-1.85zM816.80 90h1.85V500h-1.85zM819.70 90h1.85V500h-1.85zM822.60 90h1.85V500h-1.85zM825.50 90h1.85V500h-1.85zM828.40 90h1.85V500h-1.85zM831.30 90h1.85V500h-1.85zM834.20 90h1.85V500h-1.85zM837.10 90h1.85V500h-1.85zM840.00 90h1.85V500h-1.85zM842.90 90h1.85V500h-1.85zM845.80 90h1.85V500h-1.85zM848.70 90h1.85V500h-1.85zM851.60 90h1.85V500h-1.85zM854.50 90h1.85V500h-1.85zM857.40 90h1.85V500h-1.85zM860.30 90h1.85V500h-1.85zM863.20 90h1.85V500h-1.85zM866.10 90h1.85V500h-1.85zM869.00 90h1.85V500h-1.85zM871.90 90h1.85V500h-1.85zM874.80 90h1.85V500h-1.85zM877.70 90h1.85V500h-1.85zM880.60 90h1.85V500h-1.85zM883.50 90h1.85V500h-1.85zM886.40 90h1.85V500h-1.85zM889.30 90h1.85V500h-1.85zM892.20 90h1.85V500h-1.85zM895.10 90h1.85V500h-1.85zM898.00 90h1.85V500h-1.85zM900.90 90h1.85V500h-1.85zM903.80 90h1.85V500h-1.85zM906.70 90h1.85V500h-1.85zM909.60 90h1.85V500h-1.85zM912.50 90h1.85V500h-1.85zM915.40 90h1.85V500h-1.85zM918.30 90h1.85V500h-1.85zM921.20 90h1.85V500h-1.85zM924.10 90h1.85V500h-1.85zM927.00 90h1.85V500h-1.85zM929.90 90h1.85V500h-1.85zM932.80 90h1.85V500h-1.85zM935.70 90h1.85V500h-1.85zM938.60 90h1.85V500h-1.85zM941.50 90h1.85V500h-1.85zM944.40 90h1.85V500h-1.85zM947.30 90h1.85V500h-1.85zM950.20 90h1.85V500h-1.85zM953.10 90h1.85V500h-1.85zM956.00 90h1.85V500h-1.85zM958.90 90h1.85V500h-1.85zM961.80 90h1.85V500h-1.85zM964.70 90h1.85V500h-1.85z" fill="#2fc6ba"/></g>
<g clip-path="url(#cr)"><rect x="60" y="276" width="910" height="200" fill="#ffc2ca"/><path d="M65.70 90h1.85V500h-1.85zM68.60 90h1.85V500h-1.85zM71.50 90h1.85V500h-1.85zM74.40 90h1.85V500h-1.85zM77.30 90h1.85V500h-1.85zM80.20 90h1.85V500h-1.85zM83.10 90h1.85V500h-1.85zM86.00 90h1.85V500h-1.85zM88.90 90h1.85V500h-1.85zM91.80 90h1.85V500h-1.85zM94.70 90h1.85V500h-1.85zM97.60 90h1.85V500h-1.85zM100.50 90h1.85V500h-1.85zM103.40 90h1.85V500h-1.85zM106.30 90h1.85V500h-1.85zM109.20 90h1.85V500h-1.85zM112.10 90h1.85V500h-1.85zM115.00 90h1.85V500h-1.85zM117.90 90h1.85V500h-1.85zM120.80 90h1.85V500h-1.85zM123.70 90h1.85V500h-1.85zM126.60 90h1.85V500h-1.85zM129.50 90h1.85V500h-1.85zM132.40 90h1.85V500h-1.85zM135.30 90h1.85V500h-1.85zM138.20 90h1.85V500h-1.85zM141.10 90h1.85V500h-1.85zM144.00 90h1.85V500h-1.85zM146.90 90h1.85V500h-1.85zM149.80 90h1.85V500h-1.85zM152.70 90h1.85V500h-1.85zM155.60 90h1.85V500h-1.85zM158.50 90h1.85V500h-1.85zM161.40 90h1.85V500h-1.85zM164.30 90h1.85V500h-1.85zM167.20 90h1.85V500h-1.85zM170.10 90h1.85V500h-1.85zM173.00 90h1.85V500h-1.85zM175.90 90h1.85V500h-1.85zM178.80 90h1.85V500h-1.85zM181.70 90h1.85V500h-1.85zM184.60 90h1.85V500h-1.85zM187.50 90h1.85V500h-1.85zM190.40 90h1.85V500h-1.85zM193.30 90h1.85V500h-1.85zM196.20 90h1.85V500h-1.85zM199.10 90h1.85V500h-1.85zM202.00 90h1.85V500h-1.85zM204.90 90h1.85V500h-1.85zM207.80 90h1.85V500h-1.85zM210.70 90h1.85V500h-1.85zM213.60 90h1.85V500h-1.85zM216.50 90h1.85V500h-1.85zM219.40 90h1.85V500h-1.85zM222.30 90h1.85V500h-1.85zM225.20 90h1.85V500h-1.85zM228.10 90h1.85V500h-1.85zM231.00 90h1.85V500h-1.85zM233.90 90h1.85V500h-1.85zM236.80 90h1.85V500h-1.85zM239.70 90h1.85V500h-1.85zM242.60 90h1.85V500h-1.85zM245.50 90h1.85V500h-1.85zM248.40 90h1.85V500h-1.85zM251.30 90h1.85V500h-1.85zM254.20 90h1.85V500h-1.85zM257.10 90h1.85V500h-1.85zM260.00 90h1.85V500h-1.85zM262.90 90h1.85V500h-1.85zM265.80 90h1.85V500h-1.85zM268.70 90h1.85V500h-1.85zM271.60 90h1.85V500h-1.85zM274.50 90h1.85V500h-1.85zM277.40 90h1.85V500h-1.85zM280.30 90h1.85V500h-1.85zM283.20 90h1.85V500h-1.85zM286.10 90h1.85V500h-1.85zM289.00 90h1.85V500h-1.85zM291.90 90h1.85V500h-1.85zM294.80 90h1.85V500h-1.85zM297.70 90h1.85V500h-1.85zM300.60 90h1.85V500h-1.85zM303.50 90h1.85V500h-1.85zM306.40 90h1.85V500h-1.85zM309.30 90h1.85V500h-1.85zM312.20 90h1.85V500h-1.85zM315.10 90h1.85V500h-1.85zM318.00 90h1.85V500h-1.85zM320.90 90h1.85V500h-1.85zM323.80 90h1.85V500h-1.85zM326.70 90h1.85V500h-1.85zM329.60 90h1.85V500h-1.85zM332.50 90h1.85V500h-1.85zM335.40 90h1.85V500h-1.85zM338.30 90h1.85V500h-1.85zM341.20 90h1.85V500h-1.85zM344.10 90h1.85V500h-1.85zM347.00 90h1.85V500h-1.85zM349.90 90h1.85V500h-1.85zM352.80 90h1.85V500h-1.85zM355.70 90h1.85V500h-1.85zM358.60 90h1.85V500h-1.85zM361.50 90h1.85V500h-1.85zM364.40 90h1.85V500h-1.85zM367.30 90h1.85V500h-1.85zM370.20 90h1.85V500h-1.85zM373.10 90h1.85V500h-1.85zM376.00 90h1.85V500h-1.85zM378.90 90h1.85V500h-1.85zM381.80 90h1.85V500h-1.85zM384.70 90h1.85V500h-1.85zM387.60 90h1.85V500h-1.85zM390.50 90h1.85V500h-1.85zM393.40 90h1.85V500h-1.85zM396.30 90h1.85V500h-1.85zM399.20 90h1.85V500h-1.85zM402.10 90h1.85V500h-1.85zM405.00 90h1.85V500h-1.85zM407.90 90h1.85V500h-1.85zM410.80 90h1.85V500h-1.85zM413.70 90h1.85V500h-1.85zM416.60 90h1.85V500h-1.85zM419.50 90h1.85V500h-1.85zM422.40 90h1.85V500h-1.85zM425.30 90h1.85V500h-1.85zM428.20 90h1.85V500h-1.85zM431.10 90h1.85V500h-1.85zM434.00 90h1.85V500h-1.85zM436.90 90h1.85V500h-1.85zM439.80 90h1.85V500h-1.85zM442.70 90h1.85V500h-1.85zM445.60 90h1.85V500h-1.85zM448.50 90h1.85V500h-1.85zM451.40 90h1.85V500h-1.85zM454.30 90h1.85V500h-1.85zM457.20 90h1.85V500h-1.85zM460.10 90h1.85V500h-1.85zM463.00 90h1.85V500h-1.85zM465.90 90h1.85V500h-1.85zM468.80 90h1.85V500h-1.85zM471.70 90h1.85V500h-1.85zM474.60 90h1.85V500h-1.85zM477.50 90h1.85V500h-1.85zM480.40 90h1.85V500h-1.85zM483.30 90h1.85V500h-1.85zM486.20 90h1.85V500h-1.85zM489.10 90h1.85V500h-1.85zM492.00 90h1.85V500h-1.85zM494.90 90h1.85V500h-1.85zM497.80 90h1.85V500h-1.85zM500.70 90h1.85V500h-1.85zM503.60 90h1.85V500h-1.85zM506.50 90h1.85V500h-1.85zM509.40 90h1.85V500h-1.85zM512.30 90h1.85V500h-1.85zM515.20 90h1.85V500h-1.85zM518.10 90h1.85V500h-1.85zM521.00 90h1.85V500h-1.85zM523.90 90h1.85V500h-1.85zM526.80 90h1.85V500h-1.85zM529.70 90h1.85V500h-1.85zM532.60 90h1.85V500h-1.85zM535.50 90h1.85V500h-1.85zM538.40 90h1.85V500h-1.85zM541.30 90h1.85V500h-1.85zM544.20 90h1.85V500h-1.85zM547.10 90h1.85V500h-1.85zM550.00 90h1.85V500h-1.85zM552.90 90h1.85V500h-1.85zM555.80 90h1.85V500h-1.85zM558.70 90h1.85V500h-1.85zM561.60 90h1.85V500h-1.85zM564.50 90h1.85V500h-1.85zM567.40 90h1.85V500h-1.85zM570.30 90h1.85V500h-1.85zM573.20 90h1.85V500h-1.85zM576.10 90h1.85V500h-1.85zM579.00 90h1.85V500h-1.85zM581.90 90h1.85V500h-1.85zM584.80 90h1.85V500h-1.85zM587.70 90h1.85V500h-1.85zM590.60 90h1.85V500h-1.85zM593.50 90h1.85V500h-1.85zM596.40 90h1.85V500h-1.85zM599.30 90h1.85V500h-1.85zM602.20 90h1.85V500h-1.85zM605.10 90h1.85V500h-1.85zM608.00 90h1.85V500h-1.85zM610.90 90h1.85V500h-1.85zM613.80 90h1.85V500h-1.85zM616.70 90h1.85V500h-1.85zM619.60 90h1.85V500h-1.85zM622.50 90h1.85V500h-1.85zM625.40 90h1.85V500h-1.85zM628.30 90h1.85V500h-1.85zM631.20 90h1.85V500h-1.85zM634.10 90h1.85V500h-1.85zM637.00 90h1.85V500h-1.85zM639.90 90h1.85V500h-1.85zM642.80 90h1.85V500h-1.85zM645.70 90h1.85V500h-1.85zM648.60 90h1.85V500h-1.85zM651.50 90h1.85V500h-1.85zM654.40 90h1.85V500h-1.85zM657.30 90h1.85V500h-1.85zM660.20 90h1.85V500h-1.85zM663.10 90h1.85V500h-1.85zM666.00 90h1.85V500h-1.85zM668.90 90h1.85V500h-1.85zM671.80 90h1.85V500h-1.85zM674.70 90h1.85V500h-1.85zM677.60 90h1.85V500h-1.85zM680.50 90h1.85V500h-1.85zM683.40 90h1.85V500h-1.85zM686.30 90h1.85V500h-1.85zM689.20 90h1.85V500h-1.85zM692.10 90h1.85V500h-1.85zM695.00 90h1.85V500h-1.85zM697.90 90h1.85V500h-1.85zM700.80 90h1.85V500h-1.85zM703.70 90h1.85V500h-1.85zM706.60 90h1.85V500h-1.85zM709.50 90h1.85V500h-1.85zM712.40 90h1.85V500h-1.85zM715.30 90h1.85V500h-1.85zM718.20 90h1.85V500h-1.85zM721.10 90h1.85V500h-1.85zM724.00 90h1.85V500h-1.85zM726.90 90h1.85V500h-1.85zM729.80 90h1.85V500h-1.85zM732.70 90h1.85V500h-1.85zM735.60 90h1.85V500h-1.85zM738.50 90h1.85V500h-1.85zM741.40 90h1.85V500h-1.85zM744.30 90h1.85V500h-1.85zM747.20 90h1.85V500h-1.85zM750.10 90h1.85V500h-1.85zM753.00 90h1.85V500h-1.85zM755.90 90h1.85V500h-1.85zM758.80 90h1.85V500h-1.85zM761.70 90h1.85V500h-1.85zM764.60 90h1.85V500h-1.85zM767.50 90h1.85V500h-1.85zM770.40 90h1.85V500h-1.85zM773.30 90h1.85V500h-1.85zM776.20 90h1.85V500h-1.85zM779.10 90h1.85V500h-1.85zM782.00 90h1.85V500h-1.85zM784.90 90h1.85V500h-1.85zM787.80 90h1.85V500h-1.85zM790.70 90h1.85V500h-1.85zM793.60 90h1.85V500h-1.85zM796.50 90h1.85V500h-1.85zM799.40 90h1.85V500h-1.85zM802.30 90h1.85V500h-1.85zM805.20 90h1.85V500h-1.85zM808.10 90h1.85V500h-1.85zM811.00 90h1.85V500h-1.85zM813.90 90h1.85V500h-1.85zM816.80 90h1.85V500h-1.85zM819.70 90h1.85V500h-1.85zM822.60 90h1.85V500h-1.85zM825.50 90h1.85V500h-1.85zM828.40 90h1.85V500h-1.85zM831.30 90h1.85V500h-1.85zM834.20 90h1.85V500h-1.85zM837.10 90h1.85V500h-1.85zM840.00 90h1.85V500h-1.85zM842.90 90h1.85V500h-1.85zM845.80 90h1.85V500h-1.85zM848.70 90h1.85V500h-1.85zM851.60 90h1.85V500h-1.85zM854.50 90h1.85V500h-1.85zM857.40 90h1.85V500h-1.85zM860.30 90h1.85V500h-1.85zM863.20 90h1.85V500h-1.85zM866.10 90h1.85V500h-1.85zM869.00 90h1.85V500h-1.85zM871.90 90h1.85V500h-1.85zM874.80 90h1.85V500h-1.85zM877.70 90h1.85V500h-1.85zM880.60 90h1.85V500h-1.85zM883.50 90h1.85V500h-1.85zM886.40 90h1.85V500h-1.85zM889.30 90h1.85V500h-1.85zM892.20 90h1.85V500h-1.85zM895.10 90h1.85V500h-1.85zM898.00 90h1.85V500h-1.85zM900.90 90h1.85V500h-1.85zM903.80 90h1.85V500h-1.85zM906.70 90h1.85V500h-1.85zM909.60 90h1.85V500h-1.85zM912.50 90h1.85V500h-1.85zM915.40 90h1.85V500h-1.85zM918.30 90h1.85V500h-1.85zM921.20 90h1.85V500h-1.85zM924.10 90h1.85V500h-1.85zM927.00 90h1.85V500h-1.85zM929.90 90h1.85V500h-1.85zM932.80 90h1.85V500h-1.85zM935.70 90h1.85V500h-1.85zM938.60 90h1.85V500h-1.85zM941.50 90h1.85V500h-1.85zM944.40 90h1.85V500h-1.85zM947.30 90h1.85V500h-1.85zM950.20 90h1.85V500h-1.85zM953.10 90h1.85V500h-1.85zM956.00 90h1.85V500h-1.85zM958.90 90h1.85V500h-1.85zM961.80 90h1.85V500h-1.85zM964.70 90h1.85V500h-1.85z" fill="#f2687f"/></g>
<path d="M65.2 395.9 L65.9 400.9 L67.8 399.1 L69.4 400.9 L71.2 397.5 L73.8 397.0 L75.6 399.1 L78.0 402.5 L80.0 399.1 L81.9 393.6 L83.1 393.6 L84.7 397.5 L87.8 397.2 L90.5 401.4 L92.8 403.0 L94.7 400.9 L96.2 399.1 L97.5 401.4 L99.1 410.8 L100.3 411.6 L101.4 399.1 L102.5 385.0 L103.8 379.5 L105.3 383.4 L106.4 381.6 L108.1 384.2 L110.0 383.8 L112.3 382.7 L113.9 381.1 L116.2 381.9 L117.8 384.2 L119.4 389.7 L121.2 387.3 L122.5 390.5 L124.4 390.0 L126.4 392.8 L127.5 394.7 L129.5 393.6 L131.1 397.2 L133.1 401.4 L134.7 406.9 L136.2 414.7 L137.3 414.4 L138.6 419.8 L140.0 417.8 L141.6 412.3 L142.8 410.8 L144.8 407.7 L146.2 411.6 L148.3 414.4 L150.6 415.5 L152.5 411.6 L155.3 410.8 L157.7 414.7 L160.0 416.2 L162.3 416.2 L164.4 418.6 L165.5 421.7 L166.7 428.4 L167.8 417.8 L168.6 416.2 L171.2 417.0 L172.8 412.3 L174.8 414.7 L177.2 416.2 L179.5 415.5 L181.9 413.9 L184.2 417.0 L186.2 420.2 L187.3 415.5 L188.9 413.1 L190.0 412.3 L191.2 406.9 L192.5 400.9 L193.6 400.6 L194.7 404.5 L196.2 401.4 L198.3 400.9 L199.8 399.1 L201.1 390.5 L202.5 389.7 L204.1 390.9 L206.1 388.1 L207.7 391.2 L210.0 391.2 L211.2 392.0 L212.8 395.9 L215.0 396.7 L216.2 392.0 L218.6 382.7 L220.9 380.3 L223.3 381.9 L225.6 383.1 L227.2 384.2 L228.4 379.5 L230.3 376.4 L232.7 373.3 L233.8 374.8 L235.0 371.2 L236.9 369.1 L238.9 369.4 L240.5 373.3 L242.8 375.6 L244.1 371.7 L245.6 377.2 L247.5 377.5 L249.1 376.4 L250.3 374.8 L251.9 379.5 L253.4 385.8 L254.5 389.4 L256.1 391.2 L257.7 393.1 L259.2 393.1 L260.3 390.0 L262.3 389.4 L263.9 385.8 L265.5 386.6 L266.6 391.2 L267.5 399.1 L268.6 403.0 L269.7 404.5 L271.2 404.5 L271.9 422.5 L272.2 452.2 L272.5 470.3 L272.9 461.0 L273.3 452.2 L273.8 459.1 L274.4 453.2 L275.0 460.0 L275.7 457.1 L276.3 456.6 L276.9 460.0 L277.5 465.9 L278.3 461.0 L279.1 460.0 L280.0 459.1 L280.4 449.3 L281.0 438.6 L282.0 437.4 L283.5 437.6 L284.1 441.5 L284.9 445.4 L285.5 439.5 L286.4 430.7 L287.4 426.6 L288.8 426.8 L290.0 427.0 L290.8 430.7 L291.8 434.6 L292.7 439.5 L293.4 443.4 L294.0 437.6 L294.7 432.7 L295.9 431.9 L297.1 429.8 L297.8 426.8 L298.6 425.4 L300.1 424.9 L301.3 423.9 L302.5 423.7 L303.0 420.0 L304.5 415.5 L306.6 415.0 L307.7 420.2 L308.8 423.3 L310.8 421.7 L312.3 424.1 L314.4 427.2 L315.5 421.7 L317.0 417.8 L318.6 416.6 L320.2 422.5 L321.7 423.3 L322.8 418.6 L324.4 412.3 L326.4 410.0 L328.4 407.7 L330.3 405.3 L331.6 391.2 L332.7 392.0 L334.2 388.9 L335.8 387.8 L337.8 388.9 L339.4 386.6 L340.5 380.3 L341.6 373.8 L343.1 375.6 L344.4 383.4 L345.9 392.8 L347.2 392.0 L348.8 383.4 L349.8 377.2 L351.4 381.9 L353.0 378.8 L354.5 376.9 L356.6 377.2 L357.7 380.3 L359.2 385.0 L360.0 384.1 L361.2 384.4 L362.3 389.5 L364.7 388.8 L366.2 381.7 L367.8 379.4 L369.1 377.8 L370.2 379.4 L371.2 373.9 L372.2 370.8 L373.3 379.4 L374.8 376.2 L376.4 377.0 L378.8 375.9 L381.1 375.5 L383.1 375.0 L384.2 381.7 L385.8 380.2 L388.1 380.9 L390.5 379.4 L392.8 380.9 L394.7 382.8 L396.7 382.5 L397.8 378.1 L399.1 378.1 L400.6 381.7 L402.5 384.8 L404.1 386.4 L406.1 384.4 L408.4 384.1 L410.3 385.3 L412.3 385.6 L413.9 385.6 L415.5 383.3 L417.0 381.2 L419.1 382.5 L420.9 383.3 L423.3 383.3 L425.6 384.4 L428.0 385.3 L430.3 384.8 L432.2 384.1 L433.4 381.2 L435.0 379.4 L437.3 378.6 L438.9 375.5 L440.0 368.4 L440.9 360.9 L442.5 360.3 L444.4 358.3 L445.6 355.9 L446.7 352.0 L448.3 359.1 L449.8 357.5 L451.4 352.8 L452.5 351.2 L454.5 352.0 L456.6 351.2 L458.4 350.5 L459.7 354.7 L461.2 351.2 L463.1 350.5 L465.0 348.9 L466.7 346.2 L468.1 349.7 L470.2 350.5 L471.7 352.5 L473.8 352.0 L475.3 351.2 L476.9 355.2 L478.8 355.6 L480.6 353.6 L482.7 352.0 L484.2 350.5 L485.3 349.4 L486.2 355.9 L487.3 366.9 L488.1 370.0 L489.4 367.7 L490.5 369.7 L492.5 369.2 L494.1 371.2 L495.9 369.2 L497.8 367.7 L499.8 368.1 L501.4 364.5 L503.0 361.4 L505.0 360.3 L506.9 359.4 L508.1 360.9 L510.0 365.9 L511.8 369.3 L513.4 363.7 L516.3 362.6 L519.0 362.1 L521.3 363.7 L523.5 365.9 L526.3 362.6 L528.1 364.8 L530.3 361.4 L532.6 358.0 L535.3 354.0 L538.2 355.3 L540.5 355.8 L542.7 355.3 L545.0 349.0 L546.6 340.0 L548.4 337.7 L551.8 336.6 L554.0 331.4 L555.8 334.3 L558.5 330.5 L560.8 331.4 L563.0 328.2 L564.6 318.5 L566.0 314.0 L567.6 318.5 L569.1 316.3 L570.9 316.3 L573.2 311.1 L575.0 307.2 L577.3 310.2 L579.5 301.6 L581.1 295.3 L583.4 294.4 L584.9 289.9 L586.7 291.4 L588.6 286.3 L590.1 293.7 L591.7 301.2 L593.5 292.6 L595.3 286.9 L596.5 282.4 L598.5 286.3 L600.3 284.7 L602.1 288.5 L603.7 285.8 L605.9 290.3 L608.2 292.6 L609.8 291.4 L611.6 286.9 L613.4 284.7 L614.5 280.2 L615.4 270.0 L615.6 271.2 L616.9 261.9 L618.4 257.2 L620.0 256.9 L621.6 259.5 L623.4 257.5 L625.0 252.5 L626.6 246.2 L628.9 240.0 L631.2 235.3 L633.6 230.6 L635.2 225.2 L636.7 218.9 L638.3 213.4 L639.8 210.3 L641.4 203.3 L642.5 197.8 L643.8 191.6 L644.2 184.7 L645.6 191.6 L646.9 199.4 L648.4 207.2 L649.7 199.4 L650.8 193.1 L651.6 190.8 L653.1 197.0 L654.7 200.2 L656.6 200.9 L658.1 207.2 L659.7 215.0 L660.6 218.9 L661.7 215.0 L664.1 214.2 L665.6 215.8 L666.9 222.8 L668.0 213.4 L669.1 208.0 L671.1 207.2 L672.7 211.9 L673.8 205.6 L675.0 199.4 L676.2 196.2 L678.1 194.7 L679.7 191.6 L680.6 189.7 L681.2 178.8 L682.2 169.4 L683.3 167.5 L684.4 170.2 L685.6 163.9 L687.2 162.3 L688.4 163.9 L690.0 160.3 L691.1 160.8 L692.2 156.9 L693.1 152.2 L694.2 150.9 L695.0 144.4 L696.6 140.5 L698.1 138.4 L698.9 145.9 L700.0 156.1 L700.9 160.0 L702.0 158.4 L703.1 163.9 L705.2 167.8 L706.4 170.2 L707.5 161.6 L708.8 157.7 L709.8 156.1 L710.6 160.0 L712.2 160.3 L713.8 159.7 L715.3 153.8 L716.9 148.3 L718.4 143.6 L720.0 138.1 L721.6 137.3 L722.7 130.0 L723.6 133.4 L725.0 141.2 L726.2 137.3 L727.8 135.8 L730.2 135.8 L731.7 136.6 L733.3 142.0 L734.8 145.2 L735.9 148.3 L737.2 151.4 L738.4 143.6 L740.0 140.5 L741.6 137.3 L743.4 135.0 L745.8 134.2 L747.3 134.2 L748.4 136.9 L750.0 135.0 L752.0 136.6 L753.3 140.5 L754.7 136.6 L756.2 133.4 L758.3 131.9 L759.4 128.0 L760.6 124.8 L762.5 124.8 L764.1 128.0 L765.3 130.3 L766.6 136.6 L767.7 141.2 L769.2 141.2 L771.6 150.3 L773.1 155.0 L775.0 158.9 L776.2 150.3 L777.5 144.8 L779.1 144.8 L780.2 146.4 L781.2 138.6 L782.5 137.0 L784.1 138.6 L785.3 140.2 L786.4 146.4 L787.5 140.2 L789.1 139.4 L790.3 137.0 L791.6 135.5 L792.7 137.0 L793.8 140.9 L795.0 140.9 L795.8 148.8 L796.9 157.3 L798.4 158.1 L799.7 163.6 L801.2 168.3 L802.5 173.8 L803.6 178.4 L804.7 186.2 L805.3 194.8 L805.9 185.5 L806.9 192.5 L807.8 195.6 L808.8 198.8 L809.5 203.4 L810.3 197.2 L811.4 191.7 L813.4 190.2 L814.5 194.1 L815.6 198.8 L816.9 205.0 L818.1 201.1 L819.7 197.2 L820.8 198.0 L821.9 194.1 L823.1 190.6 L824.4 195.6 L825.5 199.5 L827.0 202.7 L828.1 208.9 L829.1 210.5 L830.2 200.3 L831.2 197.2 L832.8 198.0 L833.8 202.7 L834.8 195.6 L835.9 187.8 L837.2 185.5 L838.4 186.2 L839.5 191.7 L840.6 194.1 L841.9 198.8 L843.1 202.7 L844.2 208.1 L845.3 215.2 L845.8 217.5 L846.9 212.8 L848.1 207.3 L849.7 208.1 L850.9 216.7 L852.0 211.2 L853.6 205.0 L855.2 202.2 L856.7 205.8 L858.3 208.1 L859.4 205.0 L860.6 203.4 L862.2 207.3 L863.8 208.1 L865.3 210.5 L866.9 209.7 L868.8 208.9 L870.0 210.5 L871.6 212.8 L873.1 214.4 L874.7 216.7 L876.2 218.3 L877.8 219.8 L879.4 222.2 L881.7 217.5 L883.3 212.8 L884.8 208.1 L886.4 201.9 L888.0 195.6 L889.5 190.2 L891.1 187.0 L892.7 183.9 L893.8 180.0 L895.0 183.9 L896.2 188.6 L897.3 191.7 L898.1 192.5 L899.4 188.6 L900.5 183.9 L902.0 177.7 L903.1 173.0 L904.4 172.2 L905.6 168.3 L906.7 167.5 L907.8 169.8 L909.1 171.9 L910.3 165.2 L911.4 163.1 L913.0 165.9 L914.5 169.8 L916.1 171.9 L917.2 169.8 L918.4 164.4 L919.7 159.7 L921.2 158.9 L922.3 158.1 L923.9 160.5 L924.7 162.8 L925.9 160.5 L926.2 159.5 L927.5 164.2 L929.1 160.0 L930.6 159.5 L931.9 164.2 L933.4 161.9 L934.5 159.5 L936.1 157.2 L937.7 155.6 L938.8 151.7 L940.0 150.2 L940.8 157.2 L941.6 163.4 L942.8 167.8 L944.4 168.1 L945.5 170.5 L947.0 168.9 L948.3 170.5 L949.4 165.8 L950.6 162.7 L952.2 162.7 L953.3 164.2 L954.8 161.9 L955.9 164.2 L956.9 170.5 L958.0 178.3 L958.8 183.0 L959.7 175.9 L960.6 172.0 L961.6 173.6 L962.3 179.1" fill="none" stroke="#7e7e7e" stroke-width="1.15" style="mix-blend-mode:multiply" stroke-linejoin="round"/>
<circle cx="539.5" cy="84.4" r="3.6" fill="#16c9b6"/><text class="lg" x="547" y="88.2" textLength="148.8" lengthAdjust="spacingAndGlyphs">Increasing Illiquid Supply [BTC]</text>
<circle cx="728.3" cy="84.4" r="3.6" fill="#f0496a"/><text class="lg" x="736.1" y="88.2" textLength="152.4" lengthAdjust="spacingAndGlyphs">Decreasing Illiquid Supply [BTC]</text>
<circle cx="922.3" cy="84.4" r="3.6" fill="#7d7d7d"/><text class="lg" x="929.6" y="88.2" textLength="54.7" lengthAdjust="spacingAndGlyphs">Price [USD]</text>
<text x="21.8" y="554.7" font-size="13" fill="#8a8a8a" textLength="212.7" lengthAdjust="spacingAndGlyphs">© 2021 Glassnode. All Rights Reserved.</text>
<text x="892.8" y="555.6" font-size="22" fill="#111" textLength="109.6" lengthAdjust="spacingAndGlyphs" stroke="#111" stroke-width="0.5">glassnode</text>
</svg></body></html>
